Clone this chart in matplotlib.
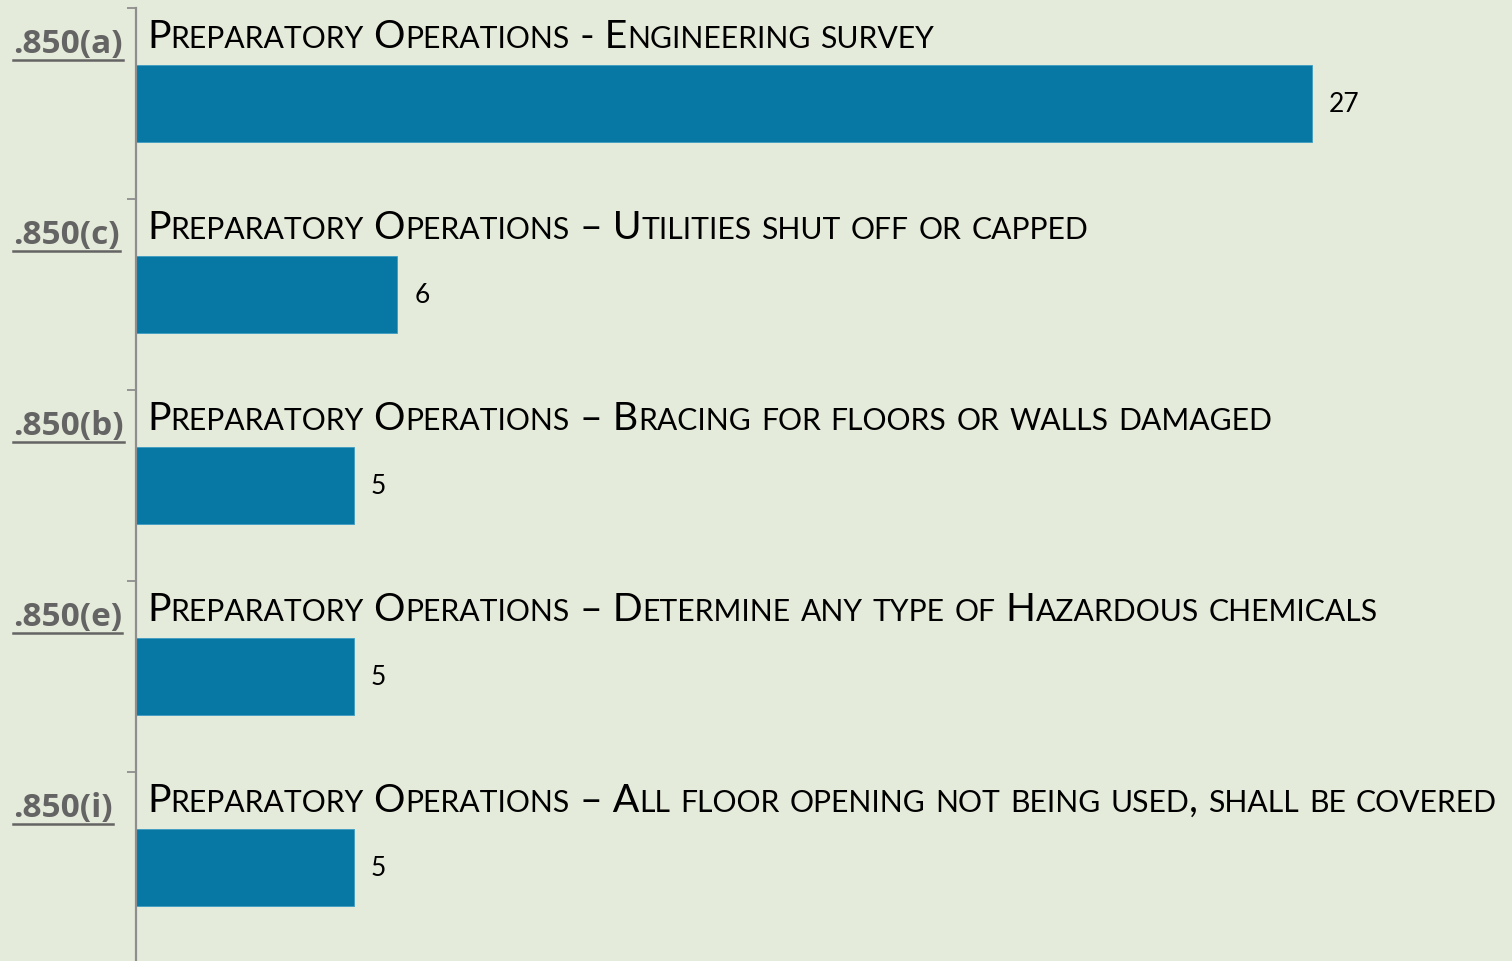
import matplotlib
matplotlib.use("Agg")
import matplotlib.pyplot as plt
from matplotlib.font_manager import FontProperties
from matplotlib.lines import Line2D
from matplotlib import transforms

# data
codes = [".850(a)", ".850(c)", ".850(b)", ".850(e)", ".850(i)"]
titles = [
    "Preparatory Operations - Engineering survey",
    "Preparatory Operations \u2013 Utilities shut off or capped",
    "Preparatory Operations \u2013 Bracing for floors or walls damaged",
    "Preparatory Operations \u2013 Determine any type of Hazardous chemicals",
    "Preparatory Operations \u2013 All floor opening not being used, shall be covered",
]
counts = [27, 6, 5, 5, 5]

bg = "#E5EBDA"
bar_color = "#0778A3"
axis_color = "#8E8E8E"
code_color = "#646464"
FONT = "Lato"

W, H = 1512, 962
fig = plt.figure(figsize=(W / 100, H / 100), dpi=100, facecolor=bg)
ax = fig.add_axes([136 / W, -2 / H, 1 - 136 / W, 955 / H])
ax.set_facecolor(bg)

ypos = list(range(len(counts)))
ax.barh(ypos, counts, height=0.4, color=bar_color, edgecolor="#3E9CC2", linewidth=0.6)
ax.set_xlim(0, 31.6)
ax.set_ylim(len(counts) - 0.5, -0.5)

for s in ["top", "right", "bottom"]:
    ax.spines[s].set_visible(False)
ax.spines["left"].set_color(axis_color)
ax.spines["left"].set_linewidth(1.6)
ax.spines["left"].set_zorder(5)
ax.set_xticks([])
ax.set_yticks([i - 0.5 for i in ypos])
ax.set_yticklabels([])
ax.tick_params(axis="y", length=6.5, width=1.3, color=axis_color, direction="out")

# value labels
off = transforms.offset_copy(ax.transData, fig=fig, x=17, y=0, units="dots")
for y, v in zip(ypos, counts):
    ax.text(v, y, str(v), transform=off, ha="left", va="center",
            fontsize=19, family=FONT, color="black")

renderer = fig.canvas.get_renderer()


def text_width(s, size, weight="normal"):
    fp = FontProperties(family=FONT, size=size, weight=weight)
    w1 = renderer.get_text_width_height_descent(s + "I", fp, ismath=False)[0]
    w2 = renderer.get_text_width_height_descent("I", fp, ismath=False)[0]
    return w1 - w2


def split_runs(s):
    runs = []
    for ch in s:
        big = not ch.islower()
        if runs and runs[-1][0] == big:
            runs[-1][1] += ch
        else:
            runs.append([big, ch])
    return runs


def line_width(s, big, small):
    return sum(text_width(t.upper(), big if b else small) for b, t in split_runs(s))


def draw_smallcaps(x, y, s, big, small):
    for b, t in split_runs(s):
        size = big if b else small
        fig.text(x / W, y / H, t.upper(), fontsize=size, family=FONT,
                 ha="left", va="baseline", color="black")
        x += text_width(t.upper(), size)


# fit the longest title to the reference width
big, small = 28.0, 21.5
scale = 1352 / line_width(titles[-1], big, small)
big, small = big * scale, small * scale

for i, (code, title) in enumerate(zip(codes, titles)):
    band_top = ax.transData.transform((0, i - 0.5))[1]
    base = band_top - 39
    draw_smallcaps(147, base, title, big, small)
    cbase = band_top - 44
    t = fig.text(13 / W, cbase / H, code, fontsize=24, family="Open Sans",
                 weight="bold", color=code_color, ha="left", va="baseline")
    bb = t.get_window_extent(renderer)
    uy = (cbase - 8) / H
    fig.add_artist(Line2D([bb.x0 / W, bb.x1 / W], [uy, uy], color=code_color,
                          linewidth=1.8, transform=fig.transFigure))

fig.savefig("out.png", dpi=100, facecolor=bg)
